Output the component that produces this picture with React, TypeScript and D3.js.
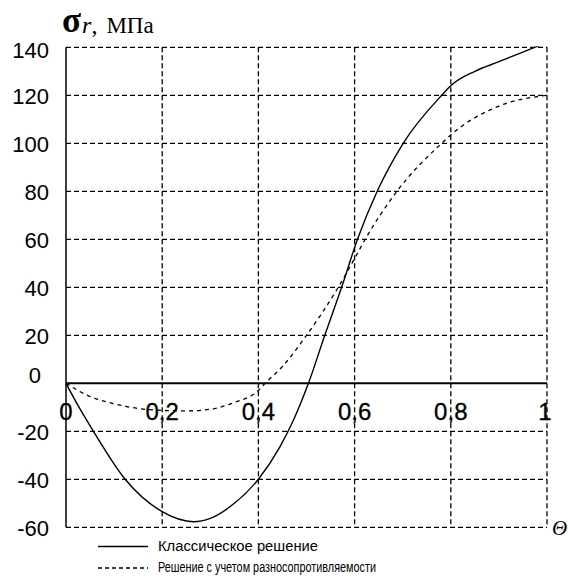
import React from "react";
import * as d3 from "d3";

const thetaClassic = [0, 0.03, 0.057, 0.123, 0.2, 0.265, 0.3, 0.35, 0.4, 0.445, 0.473, 0.504, 0.538, 0.573, 0.606, 0.647, 0.701, 0.781, 0.8, 0.85, 0.9, 0.95, 1];
const sigmaClassic = [0, -11, -20, -40, -53.5, -57.7, -56.3, -50, -40, -26.4, -15.3, 0, 20, 40, 60, 80, 100, 120, 124, 130, 134, 138, 142];

const thetaModified = [0, 0.05, 0.1, 0.15, 0.2, 0.25, 0.3, 0.35, 0.4, 0.414, 0.45, 0.5, 0.566, 0.6, 0.622, 0.688, 0.781, 0.8, 0.9, 1];
const sigmaModified = [0, -5.5, -8.5, -10.5, -11.3, -11.5, -10.8, -8, -3, 0, 7, 20, 40, 52, 60, 80, 100, 103.5, 115.5, 120];

const yTicks = [140, 120, 100, 80, 60, 40, 20, 0, -20, -40, -60];
const xTicks = [0, 0.2, 0.4, 0.6, 0.8, 1];
const xTickLabels = ["0", "0,2", "0,4", "0,6", "0,8", "1"];

const legendLabels = ["Классическое решение", "Решение с учетом разносопротивляемости"];

export default function App() {
  const x = d3.scaleLinear().domain([0, 1]).range([66, 547]);
  const y = d3.scaleLinear().domain([-60, 140]).range([527.3, 47.3]);

  const line = d3
    .line<[number, number]>()
    .x((d) => x(d[0]))
    .y((d) => y(d[1]))
    .curve(d3.curveMonotoneX);

  const classic = thetaClassic.map((t, i) => [t, sigmaClassic[i]] as [number, number]);
  const modified = thetaModified.map((t, i) => [t, sigmaModified[i]] as [number, number]);

  const x0 = x(0), x1 = x(1), yTop = y(140), yBot = y(-60);
  const sans = "'Liberation Sans', Arial, sans-serif";
  const serif = "'Liberation Serif', 'Times New Roman', serif";

  return (
    <svg
      width={568}
      height={579}
      viewBox="0 0 568 579"
      style={{ position: "fixed", left: 0, top: 0, background: "#fff" }}
    >
      <defs>
        <clipPath id="plotClip">
          <rect x={x0 - 2} y={yTop - 1} width={x1 - x0 + 4} height={yBot - yTop + 2} />
        </clipPath>
      </defs>
      <rect x={0} y={0} width={568} height={579} fill="#fff" />

      {/* horizontal grid */}
      {yTicks.filter((v) => v !== 0).map((v) => (
        <line key={"h" + v} x1={x0} x2={x1} y1={y(v)} y2={y(v)} stroke="#000" strokeWidth={1.3} strokeDasharray="5,3" />
      ))}
      {/* vertical grid */}
      {xTicks.filter((v) => v !== 0).map((v) => (
        <line key={"v" + v} x1={x(v)} x2={x(v)} y1={yTop} y2={yBot} stroke="#000" strokeWidth={1.3} strokeDasharray="5,3" />
      ))}
      {/* axes */}
      <line x1={x0} x2={x0} y1={yTop} y2={yBot} stroke="#000" strokeWidth={1.5} />
      <line x1={x0} x2={x1} y1={y(0)} y2={y(0)} stroke="#000" strokeWidth={2} />

      {/* curves */}
      <g clipPath="url(#plotClip)">
        <path d={line(modified) || ""} fill="none" stroke="#000" strokeWidth={1.3} strokeDasharray="4,4" />
        <path d={line(classic) || ""} fill="none" stroke="#000" strokeWidth={1.4} />
      </g>

      {/* y tick labels */}
      {yTicks.map((v) => (
        <text
          key={"yl" + v}
          x={v === 0 ? 41 : 49}
          y={v === 0 ? y(v) : y(v) + (v === 140 ? 11 : 8.5)}
          textAnchor="end"
          fontFamily={sans}
          fontSize={22}
          fill="#000"
        >
          {v}
        </text>
      ))}

      {/* x tick labels */}
      {xTicks.map((v, i) => (
        <text
          key={"xl" + v}
          x={x(v) + (i === xTicks.length - 1 ? -2 : 0)}
          y={419.5}
          textAnchor="middle"
          fontFamily={sans}
          fontSize={24}
          fill="#000"
          stroke="#000"
          strokeWidth={0.3}
        >
          {xTickLabels[i]}
        </text>
      ))}

      {/* axis titles */}
      <text x={62} y={32} fill="#000" fontFamily={serif}>
        <tspan fontSize={35} fontWeight="bold">σ</tspan>
        <tspan fontSize={24} fontStyle="italic" dx={1} dy={1}>r</tspan>
        <tspan fontSize={24} dy={0}>,</tspan>
        <tspan fontSize={23} dx={9}>МПа</tspan>
      </text>
      <text x={552} y={535} fill="#000" fontFamily={serif} fontStyle="italic" fontSize={21}>
        Θ
      </text>

      {/* legend */}
      <line x1={98} x2={148} y1={546.5} y2={546.5} stroke="#000" strokeWidth={1.3} />
      <text x={158} y={550.5} fontFamily={sans} fontSize={14} textLength={160} lengthAdjust="spacingAndGlyphs" fill="#000">
        {legendLabels[0]}
      </text>
      <line x1={98} x2={148} y1={568} y2={568} stroke="#000" strokeWidth={1.3} strokeDasharray="4,3" />
      <text x={158} y={572} fontFamily={sans} fontSize={14} textLength={218} lengthAdjust="spacingAndGlyphs" fill="#000">
        {legendLabels[1]}
      </text>
    </svg>
  );
}
